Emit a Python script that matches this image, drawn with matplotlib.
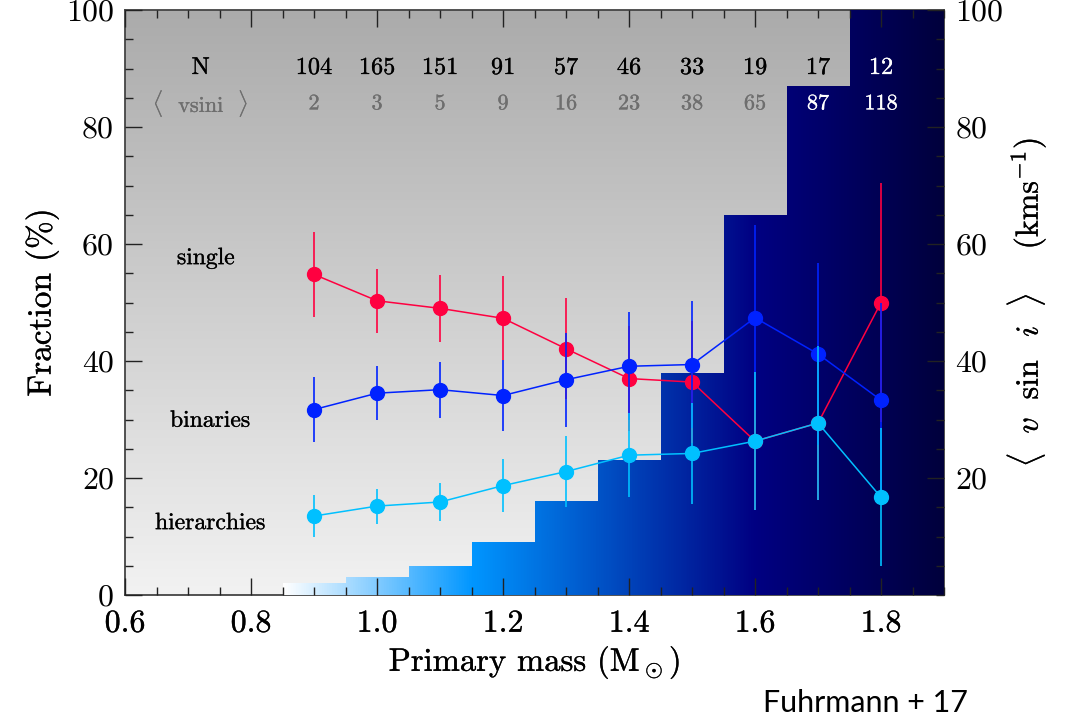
import numpy as np
import matplotlib
matplotlib.use("Agg")
import matplotlib.pyplot as plt
import matplotlib.patheffects as pe
from matplotlib.colors import LinearSegmentedColormap
from matplotlib.patches import Polygon
from matplotlib.text import Text

plt.rcParams["font.family"] = ["cmr10", "DejaVu Serif"]
plt.rcParams["mathtext.fontset"] = "cm"
plt.rcParams["axes.unicode_minus"] = False

# ---- data -------------------------------------------------------------
mass = [0.9, 1.0, 1.1, 1.2, 1.3, 1.4, 1.5, 1.6, 1.7, 1.8]
n_stars = [104, 165, 151, 91, 57, 46, 33, 19, 17, 12]
vsini_mean = [2, 3, 5, 9, 16, 23, 38, 65, 87, 118]

single = [54.8, 50.3, 49.0, 47.3, 42.1, 37.0, 36.4, 26.3, 29.4, 50.0]
single_err = [7.3, 5.5, 5.7, 7.2, 8.6, 9.0, 10.5, 11.8, 13.2, 20.4]
binaries = [31.7, 34.5, 35.1, 34.1, 36.8, 39.1, 39.4, 47.4, 41.2, 33.3]
binaries_err = [5.5, 4.6, 4.8, 6.1, 8.0, 9.2, 10.9, 15.8, 15.6, 16.7]
hierarchies = [13.5, 15.2, 15.9, 18.7, 21.1, 23.9, 24.2, 26.3, 29.4, 16.7]
hierarchies_err = [3.6, 3.0, 3.2, 4.5, 6.1, 7.2, 8.6, 11.8, 13.2, 11.8]

bin_width = 0.1
xlim = (0.6, 1.9)
ylim = (0, 100)

c_single = "#ff0040"
c_bin = "#0022ff"
c_hier = "#00c0ff"

# ---- figure -----------------------------------------------------------
fig = plt.figure(figsize=(10.66, 7.2), dpi=100)
ax = fig.add_axes([0.1173, 0.1736, 0.7683, 0.8125])
ax.set_xlim(*xlim)
ax.set_ylim(*ylim)

# grey vertical gradient in the background
grad = np.linspace(0.0, 1.0, 256).reshape(-1, 1)
bg_cmap = LinearSegmentedColormap.from_list("bg", ["#f2f2f2", "#ababab"])
ax.imshow(grad, cmap=bg_cmap, origin="lower", aspect="auto",
          extent=(xlim[0], xlim[1], ylim[0], ylim[1]), zorder=0,
          interpolation="bilinear")

# mean vsini as a step histogram filled with a horizontal colour ramp
m = np.asarray(mass)
left = m - bin_width / 2
right = m + bin_width / 2
right[-1] = xlim[1]
verts = [(left[0], 0.0)]
for l, r, h in zip(left, right, vsini_mean):
    verts += [(l, h), (r, h)]
verts.append((right[-1], 0.0))
step_patch = Polygon(verts, closed=True, transform=ax.transData,
                     facecolor="none", edgecolor="none")
ax.add_patch(step_patch)

x0 = left[0]
span = xlim[1] - x0
ramp_cmap = LinearSegmentedColormap.from_list(
    "vs",
    [((0.85 - x0) / span, "#ffffff"),
     ((1.15 - x0) / span, "#0096ff"),
     ((1.60 - x0) / span, "#000082"),
     (1.0, "#00003c")])
hgrad = np.linspace(0.0, 1.0, 512).reshape(1, -1)
im = ax.imshow(hgrad, cmap=ramp_cmap, origin="lower", aspect="auto",
               extent=(x0, xlim[1], 0, max(vsini_mean)), zorder=2.2,
               interpolation="bilinear")
im.set_clip_path(step_patch)
ax.set_xlim(*xlim)
ax.set_ylim(*ylim)

# fractions with Poisson error bars
series = [
    (single, single_err, c_single, 4),
    (binaries, binaries_err, c_bin, 6),
    (hierarchies, hierarchies_err, c_hier, 8),
]
for vals, errs, col, z in series:
    ax.errorbar(mass, vals, yerr=errs, fmt="none", ecolor=col,
                elinewidth=1.4, capsize=0, alpha=0.85, zorder=z)
    ax.plot(mass, vals, "-", color=col, lw=1.1, zorder=z)
    ax.plot(mass, vals, "o", color=col, ms=10, mec=col, zorder=z + 1)

# labels for the three multiplicity classes
ax.text(0.728, 57.6, "single", fontsize=17, ha="center", va="center", zorder=10)
ax.text(0.735, 29.8, "binaries", fontsize=17, ha="center", va="center", zorder=10)
ax.text(0.735, 12.3, "hierarchies", fontsize=17, ha="center", va="center", zorder=10)

# sample sizes and mean vsini per mass bin
y_n, y_v = 90.1, 84.0
ax.text(0.72, y_n, "N", fontsize=17.5, ha="center", va="center", zorder=10)
ax.text(0.72, y_v, r"$\langle$  vsini  $\rangle$", fontsize=16,
        color="#6e6e6e", ha="center", va="center", zorder=10)
for x, n, v in zip(mass, n_stars, vsini_mean):
    ax.text(x, y_n, str(n), fontsize=17.5, ha="center", va="center", zorder=10,
            color="white" if v > y_n else "black")
    ax.text(x, y_v, str(v), fontsize=16, ha="center", va="center", zorder=10,
            color="white" if v > y_v else "#6e6e6e")

# axes styling
for sp in ax.spines.values():
    sp.set_color("#444444")
    sp.set_linewidth(1.3)
    sp.set_zorder(2)
ax.xaxis.set_zorder(3)
ax.yaxis.set_zorder(3)

ax.set_xticks(np.arange(0.6, 1.81, 0.2))
ax.set_xticklabels(["0.6", "0.8", "1.0", "1.2", "1.4", "1.6", "1.8"])
ax.set_xticks(np.arange(0.6, 1.91, 0.05), minor=True)
ax.set_yticks(np.arange(0, 101, 20))
ax.set_yticks(np.arange(0, 101, 5), minor=True)
ax.tick_params(which="both", direction="in", top=True, right=False,
               color="#222222", width=1.0, labelsize=23)
ax.tick_params(which="major", length=12)
ax.tick_params(which="minor", length=6)
ax.tick_params(axis="x", pad=11)
ax.tick_params(axis="y", pad=8)

ax.set_xlabel(r"Primary mass ($\mathrm{M}_\odot$)", fontsize=23.5, labelpad=4)
ax.set_ylabel("Fraction (%)", fontsize=24, labelpad=5)

ax2 = ax.twinx()
ax2.set_ylim(*ylim)
ax2.set_yticks(np.arange(20, 101, 20))
ax2.set_yticks(np.arange(0, 101, 5), minor=True)
ax2.tick_params(which="both", direction="in", color="#222222", width=1.0,
                labelsize=23, pad=8)
ax2.tick_params(which="major", length=12)
ax2.tick_params(which="minor", length=6)
for sp in ax2.spines.values():
    sp.set_visible(False)
ax2.set_ylabel(r"$\langle\ \ v\ \ \sin\ \ i\ \ \rangle$    (kms$^{-1}$)",
               fontsize=23, labelpad=2)

fig.text(0.812, 0.024, "Fuhrmann + 17", fontsize=22, family="Lato",
         color="black", ha="center", va="center")

# slightly heavier strokes on the serif text
for t in fig.findobj(Text):
    if t.get_text() and t.get_fontfamily()[0] != "Lato":
        t.set_path_effects([pe.withStroke(linewidth=0.2,
                                          foreground=t.get_color())])

fig.savefig("out.png", dpi=100, facecolor="white")
